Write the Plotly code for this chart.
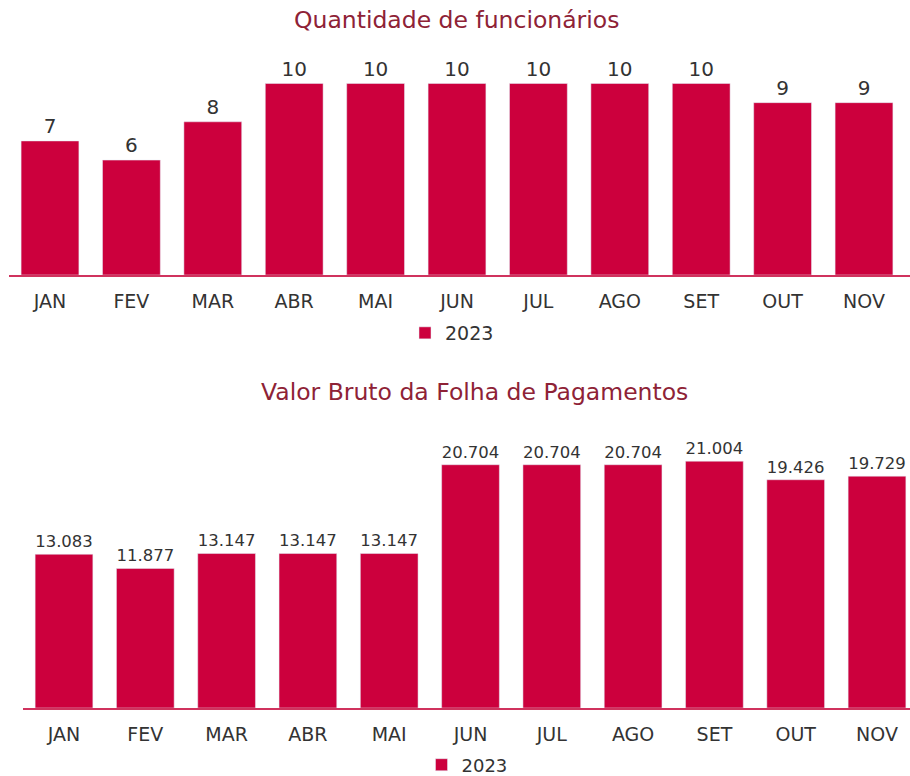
import plotly.graph_objects as go

months = ["JAN", "FEV", "MAR", "ABR", "MAI", "JUN", "JUL", "AGO", "SET", "OUT", "NOV"]
funcionarios = [7, 6, 8, 10, 10, 10, 10, 10, 10, 9, 9]
folha = [13083, 11877, 13147, 13147, 13147, 20704, 20704, 20704, 21004, 19426, 19729]
series_name = "2023"

BAR = "#CC003D"
TITLE = "#8E2236"
TXT = "#333333"
FONT = "DejaVu Sans"

W, H = 910, 776

def fx(px):
    return px / W

def fy(px):
    return 1 - px / H

fig = go.Figure()
fig.add_trace(go.Bar(
    x=months, y=funcionarios, name=series_name, marker_color=BAR,
    text=[str(v) for v in funcionarios], textposition="outside",
    textfont=dict(size=20, color=TXT, family=FONT), cliponaxis=False,
    xaxis="x", yaxis="y", legend="legend", showlegend=True,
))
fig.add_trace(go.Bar(
    x=months, y=folha, name=series_name, marker_color=BAR,
    texttemplate="%{y:,.0f}", textposition="outside",
    textfont=dict(size=20, color=TXT, family=FONT), cliponaxis=False,
    xaxis="x2", yaxis="y2", legend="legend2", showlegend=True,
))

xcommon = dict(type="category", showgrid=False, zeroline=False, showline=True,
               linecolor="#D0335E", linewidth=2, ticks="", ticklabelstandoff=8,
               automargin=False,
               tickfont=dict(size=19, color=TXT, family=FONT), fixedrange=True)

top_pu = 19.15     # px per employee
bot_pu = 11.75     # px per thousand

fig.update_layout(
    width=W, height=H,
    margin=dict(l=0, r=0, t=0, b=0, autoexpand=False),
    paper_bgcolor="white", plot_bgcolor="white",
    separators=",.",
    bargap=0.29,
    font=dict(family=FONT, color=TXT),
    xaxis=dict(**xcommon, domain=[fx(9.3), 1], range=[-0.5, 10.5 + (910 - 904.7) / 81.4], anchor="y"),
    yaxis=dict(domain=[fy(275), fy(40)], range=[0, (275 - 40) / top_pu], visible=False,
               automargin=False, fixedrange=True),
    xaxis2=dict(**xcommon, domain=[fx(23.35), 1], range=[-0.5, 10.5 - (917.65 - 910) / 81.3], anchor="y2"),
    yaxis2=dict(domain=[fy(708), fy(420)], range=[0, (708 - 420) / bot_pu * 1000], visible=False,
                automargin=False, fixedrange=True),
    legend=dict(x=fx(452), y=fy(333), xanchor="center", yanchor="middle", orientation="h",
                font=dict(size=19, color=TXT, family=FONT), itemwidth=30),
    legend2=dict(x=fx(467), y=fy(765), xanchor="center", yanchor="middle", orientation="h",
                 font=dict(size=18, color=TXT, family=FONT), itemwidth=30,
                 tracegroupgap=0),
    annotations=[
        dict(text="Quantidade de funcionários", x=fx(456.5), y=fy(20), xref="paper", yref="paper",
             showarrow=False, xanchor="center", yanchor="middle",
             font=dict(size=23.5, color=TITLE, family=FONT)),
        dict(text="Valor Bruto da Folha de Pagamentos", x=fx(474), y=fy(392), xref="paper", yref="paper",
             showarrow=False, xanchor="center", yanchor="middle",
             font=dict(size=23.5, color=TITLE, family=FONT)),
    ],
)

fig.write_html(
    "out.html",
    config={"displayModeBar": False},
    post_script="document.body.style.margin='0';",
)
